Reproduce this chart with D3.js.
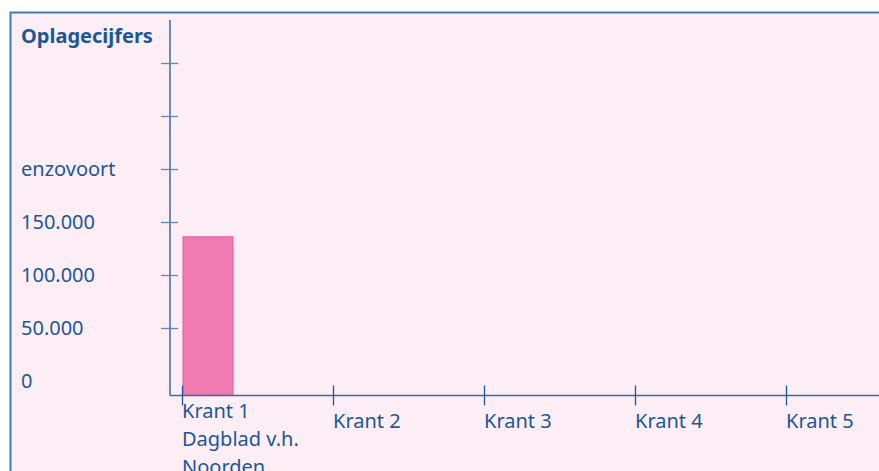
<!DOCTYPE html>
<html>
<head>
<meta charset="utf-8">
<script src="https://cdn.jsdelivr.net/npm/d3@7"></script>
<style>
  body { margin: 0; background: #ffffff; }
  svg { display: block; font-family: "Noto Sans", "Open Sans", sans-serif; }
</style>
</head>
<body>
<svg id="chart" width="879" height="471"></svg>
<script>
var kranten = ["Krant 1", "Krant 2", "Krant 3", "Krant 4", "Krant 5"]
var namen = [["Dagblad v.h.", "Noorden"], [], [], [], []]
var oplage = [136000, null, null, null, null]
var tickWaarden = [50000, 100000, 150000, 200000, 250000, 300000]
var tickLabels = ["50.000", "100.000", "150.000", "enzovoort", "", ""]

var blauw = "#1b5797"
var svg = d3.select("#chart")

// achtergrond + kader
svg.append("rect")
    .attr("x", 10.5).attr("y", 12.5)
    .attr("width", 900).attr("height", 500)
    .attr("fill", "#fdedf5")
    .attr("stroke", "#3e7cbd")
    .attr("stroke-width", 2)

var scaleY = d3.scaleLinear()
                .domain([0, 300000])
                .range([381, 63])

var scaleX = d3.scalePoint()
                .domain(kranten)
                .range([182, 786])

var baseY = scaleY(0) + 14.5
var axisX0 = 170

svg.append("text")
    .attr("x", 21).attr("y", 43)
    .attr("fill", blauw)
    .attr("font-size", 20)
    .attr("font-weight", "bold")
    .text("Oplagecijfers")

// staven
svg.append("g").selectAll("rect")
    .data(oplage.map((v, i) => ({krant: kranten[i], v: v})).filter(d => d.v != null))
    .enter().append("rect")
    .attr("x", d => scaleX(d.krant) + 1)
    .attr("y", d => scaleY(d.v))
    .attr("width", 50)
    .attr("height", d => baseY - scaleY(d.v))
    .attr("fill", "#ef7bb0")
    .attr("stroke", "#e9589c")
    .attr("stroke-width", 1)

// y-as
svg.append("line")
    .attr("x1", axisX0).attr("x2", axisX0)
    .attr("y1", 20).attr("y2", baseY)
    .attr("stroke", blauw).attr("stroke-width", 1.3)

var axisY = d3.axisLeft(scaleY)
                .tickValues(tickWaarden)
                .tickSize(9)
                .tickSizeOuter(0)
                .tickFormat("")
var gy = svg.append("g").attr("transform", "translate(" + axisX0 + ",0)").call(axisY)
gy.select(".domain").remove()
gy.selectAll(".tick line").attr("x2", -9).attr("x1", 8).attr("stroke", "#5f86bd").attr("stroke-width", 1.3)

svg.append("g").selectAll("text")
    .data([0].concat(tickWaarden))
    .enter().append("text")
    .attr("x", 21)
    .attr("y", d => scaleY(d))
    .attr("dy", "0.35em")
    .attr("fill", blauw)
    .attr("font-size", 20)
    .text((d, i) => i == 0 ? "0" : tickLabels[i - 1])

// x-as
svg.append("line")
    .attr("x1", axisX0).attr("x2", 879)
    .attr("y1", baseY).attr("y2", baseY)
    .attr("stroke", "#3a6aa6").attr("stroke-width", 1.3)

var axisX = d3.axisBottom(scaleX).tickSize(10).tickSizeOuter(0).tickFormat("")
var gx = svg.append("g").attr("transform", "translate(0," + baseY + ")").call(axisX)
gx.select(".domain").remove()
gx.selectAll(".tick line").attr("y1", -10).attr("stroke", blauw).attr("stroke-width", 1.3)

var labels = svg.append("g").selectAll("text")
    .data(kranten)
    .enter().append("text")
    .attr("x", d => scaleX(d))
    .attr("y", (d, i) => namen[i].length ? 418 : 428)
    .attr("fill", blauw)
    .attr("font-size", 20)

labels.each(function(d, i) {
    var t = d3.select(this)
    t.append("tspan").attr("x", scaleX(d)).text(d)
    namen[i].forEach(function(n) {
        t.append("tspan").attr("x", scaleX(d)).attr("dy", 28).text(n)
    })
})
</script>
</body>
</html>
